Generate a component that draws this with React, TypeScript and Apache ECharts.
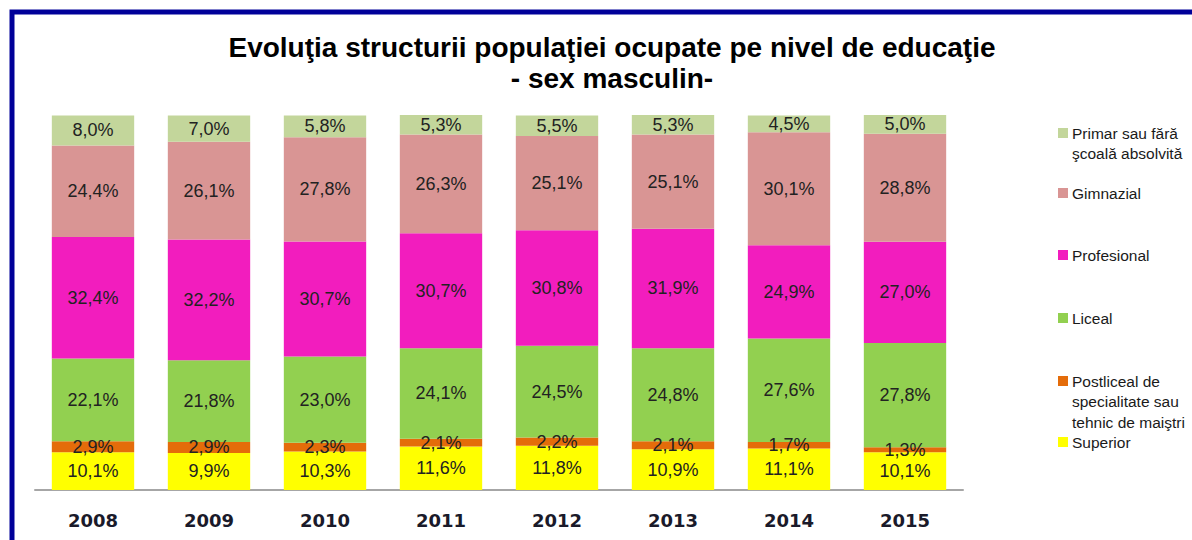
import React, { useEffect, useRef } from "react";
import * as echarts from "echarts";

const years = ["2008", "2009", "2010", "2011", "2012", "2013", "2014", "2015"];

const superior = [10.1, 9.9, 10.3, 11.6, 11.8, 10.9, 11.1, 10.1];
const postliceal = [2.9, 2.9, 2.3, 2.1, 2.2, 2.1, 1.7, 1.3];
const liceal = [22.1, 21.8, 23.0, 24.1, 24.5, 24.8, 27.6, 27.8];
const profesional = [32.4, 32.2, 30.7, 30.7, 30.8, 31.9, 24.9, 27.0];
const gimnazial = [24.4, 26.1, 27.8, 26.3, 25.1, 25.1, 30.1, 28.8];
const primar = [8.0, 7.0, 5.8, 5.3, 5.5, 5.3, 4.5, 5.0];

const seriesNames = [
  "Superior",
  "Postliceal de specialitate sau tehnic de maiştri",
  "Liceal",
  "Profesional",
  "Gimnazial",
  "Primar sau fără şcoală absolvită",
];
const seriesData = [superior, postliceal, liceal, profesional, gimnazial, primar];
const seriesColors = ["#FFFF00", "#E46C0A", "#92D050", "#F21DBE", "#D99594", "#C3D69B"];

// legend: wrapped label lines (top to bottom order in legend)
const legendLines: Record<string, string[]> = {
  "Primar sau fără şcoală absolvită": ["Primar sau fără", "şcoală absolvită"],
  Gimnazial: ["Gimnazial"],
  Profesional: ["Profesional"],
  Liceal: ["Liceal"],
  "Postliceal de specialitate sau tehnic de maiştri": ["Postliceal de", "specialitate sau", "tehnic de maiştri"],
  Superior: ["Superior"],
};
const legendOrder = [
  "Primar sau fără şcoală absolvită",
  "Gimnazial",
  "Profesional",
  "Liceal",
  "Postliceal de specialitate sau tehnic de maiştri",
  "Superior",
];
// layout: y centre of first line of each legend entry
const legendLayoutY = [133, 193, 255, 318, 381, 442];

const fmt = (v: number) => v.toFixed(1).replace(".", ",") + "%";

export default function App() {
  const ref = useRef<HTMLDivElement>(null);
  useEffect(() => {
    if (!ref.current) return;
    const chart = echarts.init(ref.current, undefined, { renderer: "svg" });
    const font = "'Liberation Sans', Arial, sans-serif";
    const legendGraphics: any[] = [];
    legendOrder.forEach((name, i) => {
      const idx = seriesNames.indexOf(name);
      const y = legendLayoutY[i];
      legendGraphics.push({
        type: "rect",
        shape: { x: 1058, y: y - 5, width: 10, height: 10 },
        style: { fill: seriesColors[idx] },
      });
      legendLines[name].forEach((line, j) => {
        legendGraphics.push({
          type: "text",
          x: 1072,
          y: y + j * 20.5,
          style: {
            text: line,
            fill: "#1a1a1a",
            font: `15.5px ${font}`,
            verticalAlign: "middle",
            align: "left",
          },
        });
      });
    });

    chart.setOption({
      animation: false,
      backgroundColor: "#ffffff",
      title: {
        text: "Evoluţia structurii populaţiei ocupate pe nivel de educaţie\n- sex masculin-",
        left: 607,
        top: 27,
        textAlign: "center",
        textStyle: {
          fontFamily: font,
          fontSize: 28,
          fontWeight: "bold",
          color: "#000000",
          lineHeight: 31,
        },
      },
      grid: { left: 35, right: 229, top: 115, bottom: 50 },
      xAxis: {
        type: "category",
        data: years,
        axisLine: { lineStyle: { color: "#A6A6A6", width: 2 } },
        axisTick: { show: false },
        axisLabel: {
          margin: 21,
          fontFamily: "'DejaVu Sans', Verdana, sans-serif",
          fontWeight: "bold",
          fontSize: 18,
          color: "#1a1a2a",
        },
      },
      yAxis: {
        type: "value",
        min: 0,
        max: 100,
        show: false,
        splitLine: { show: false },
      },
      series: seriesNames.map((name, i) => ({
        name,
        type: "bar",
        stack: "total",
        barCategoryGap: "29%",
        data: seriesData[i],
        itemStyle: { color: seriesColors[i] },
        label: {
          show: true,
          position: "inside",
          formatter: (p: any) => fmt(p.value),
          fontFamily: font,
          fontSize: 18,
          color: "#222222",
        },
      })),
      graphic: [
        {
          type: "rect",
          shape: { x: 12, y: 12, width: 1400, height: 800 },
          style: { fill: "none", stroke: "#000099", lineWidth: 5 },
        },
        ...legendGraphics,
      ],
    });
    return () => chart.dispose();
  }, []);
  return (
    <div
      ref={ref}
      style={{ position: "absolute", left: 0, top: 0, width: 1192, height: 540 }}
    />
  );
}
